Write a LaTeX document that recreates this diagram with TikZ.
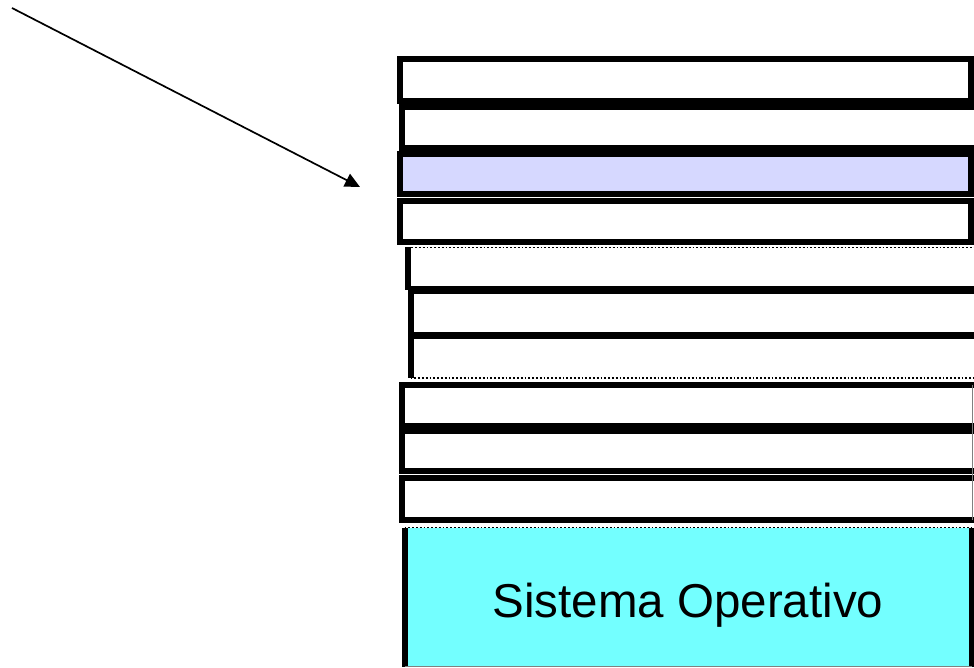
\documentclass[tikz,border=0pt]{standalone}
\usepackage{fontspec}
\setmainfont{Liberation Sans}
\usetikzlibrary{arrows.meta}
\definecolor{lav}{RGB}{214,216,255}
\definecolor{oscyan}{RGB}{115,255,255}
\begin{document}
\begin{tikzpicture}[x=1pt,y=-1pt,
  slab/.style={draw=black, line width=6pt, fill=white, rectangle, inner sep=0pt, outer sep=0pt, anchor=north west},
  plainslab/.style={draw=none, fill=white, rectangle, inner sep=0pt, outer sep=0pt, anchor=north west},
  edge/.style={line width=6pt, black},
  divider/.style={line width=7.5pt, black},
  dotline/.style={dotted, line width=1.8pt, black},
  pointer/.style={line width=1.7pt, -{Triangle[length=15pt,width=14pt]}}]
\useasboundingbox (0,0) rectangle (974,668);
% group 1
\node[slab, minimum width=571pt, minimum height=42pt] (b1) at (400,59) {};
\node[slab, minimum width=578pt, minimum height=41pt] (b2) at (402,107) {};
\node[slab, fill=lav, minimum width=571pt, minimum height=40pt] (b3) at (400,154) {};
\node[slab, minimum width=571pt, minimum height=41pt] (b4) at (400,201) {};
% group 2
\node[plainslab, minimum width=572.5pt, minimum height=42.5pt] (b5) at (407.5,247.5) {};
\node[plainslab, minimum width=569.5pt, minimum height=45.5pt] (b6) at (410.5,290) {};
\node[plainslab, minimum width=569.5pt, minimum height=42.5pt] (b7) at (410.5,335.5) {};
\draw[edge] (b5.north west) -- (b5.south west);
\draw[edge] (b6.north west) -- (b7.south west);
\draw[divider] (b5.south west) -- (b5.south east);
\draw[divider] (b6.south west) -- (b6.south east);
\draw[dotline] (b5.north west) -- (b5.north east);
\draw[dotline] (b7.south west) -- (b7.south east);
% group 3
\node[slab, minimum width=578pt, minimum height=41pt] (b8) at (402,385) {};
\node[slab, minimum width=578pt, minimum height=40pt] (b9) at (402,431) {};
\node[slab, minimum width=578pt, minimum height=42pt] (b10) at (402,478) {};
\draw[gray, line width=1pt] (b8.north west -| 972.5,0) -- (b10.south west -| 972.5,0);
% operating system
\node[plainslab, fill=oscyan, minimum width=567.5pt, minimum height=139pt] (b11) at (404.5,527.5) {};
\draw[edge] (b11.north west) -- (b11.south west);
\draw[edge] (b11.north east) -- (b11.south east);
\draw[dotline] (b11.north west) -- (b11.north east);
\draw[gray, line width=1pt] (b11.south west) -- (b11.south east);
\node[anchor=base, font=\fontsize{47.5}{57}\selectfont, inner sep=0pt] (oslabel) at (688,617) {Sistema Operativo};
% arrow
\coordinate (src) at (12,8);
\coordinate (tip) at (360,187);
\draw[pointer] (src) -- (tip);
\end{tikzpicture}
\end{document}
